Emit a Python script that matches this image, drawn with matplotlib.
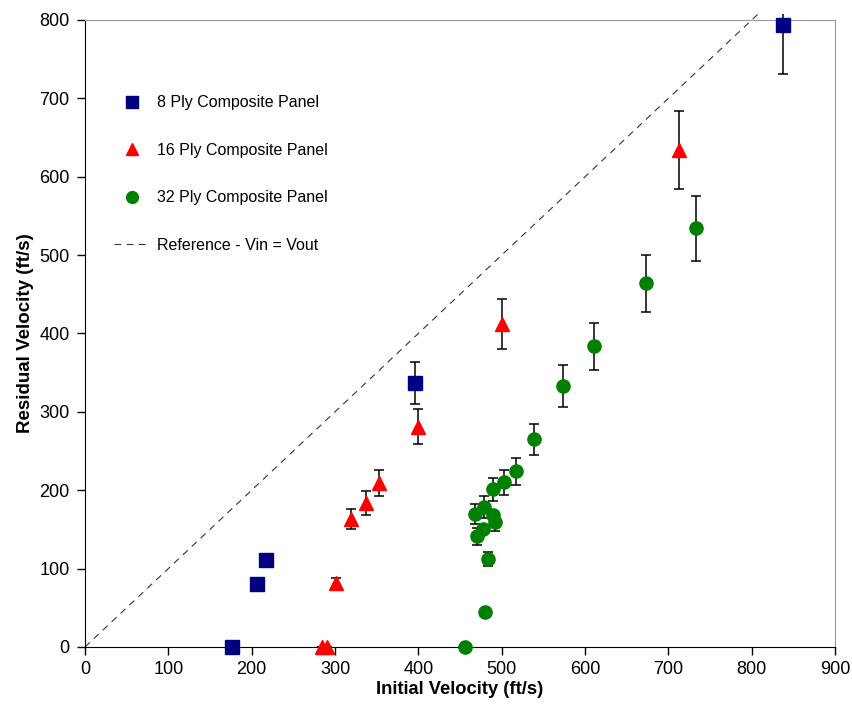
import matplotlib
matplotlib.use("Agg")
import matplotlib.pyplot as plt
from matplotlib.lines import Line2D

plt.rcParams['font.family'] = ['Liberation Sans', 'DejaVu Sans']

# 8 ply
v8_in = [177, 207, 217, 396, 837]
v8_out = [0, 80, 111, 337, 793]
e8_lo = [0, 0, 0, 27, 62]
e8_hi = [0, 0, 0, 27, 14]   # top bar of last point is cut by the plot area

# 16 ply
v16_in = [284, 290, 301, 319, 337, 353, 400, 500, 713]
v16_out = [0, 0, 81, 163, 184, 209, 281, 412, 634]
e16 = [0, 0, 7, 13, 15, 17, 22, 32, 50]

# 32 ply
v32_in = [456, 480, 483, 470, 478, 468, 479, 490, 492, 490, 503, 517, 539, 574, 611, 673, 733]
v32_out = [0, 44, 112, 141, 150, 170, 178, 168, 159, 201, 210, 224, 265, 333, 384, 464, 534]
e32 = [0, 0, 9, 11, 0, 13, 14, 0, 11, 15, 16, 17, 20, 27, 30, 36, 42]

ref_x = [0, 810]
ref_y = [0, 810]

xticks = list(range(0, 901, 100))
yticks = list(range(0, 801, 100))

labels = ['8 Ply Composite Panel', '16 Ply Composite Panel', '32 Ply Composite Panel',
          'Reference - Vin = Vout']

fig = plt.figure(figsize=(8.53, 7.24), dpi=100)
ax = fig.add_axes([0.0996, 0.1064, 0.8794, 0.866])

dash = (0, (6, 5))
ax.plot(ref_x, ref_y, ls=dash, color='#333333', lw=0.8, clip_on=False, zorder=1)

ekw = dict(ecolor='black', elinewidth=1.1, capsize=3.5, capthick=1.1, ls='none', clip_on=False)

# 8 ply: lower bars with caps, upper bars (cut ones without cap)
full = [i for i in range(len(v8_in)) if e8_hi[i] == e8_lo[i]]
cut = [i for i in range(len(v8_in)) if e8_hi[i] != e8_lo[i]]
ax.errorbar([v8_in[i] for i in full], [v8_out[i] for i in full],
            yerr=[e8_lo[i] for i in full], fmt='none', **ekw)
ax.errorbar([v8_in[i] for i in cut], [v8_out[i] for i in cut],
            yerr=[[e8_lo[i] for i in cut], [0 for i in cut]], fmt='none', **ekw)
ax.vlines([v8_in[i] for i in cut], [v8_out[i] for i in cut],
          [v8_out[i] + e8_hi[i] for i in cut], color='black', lw=1.1, clip_on=False)
ax.plot(v8_in, v8_out, 's', color='#000080', markersize=10, clip_on=False, zorder=3)

ax.errorbar(v16_in, v16_out, yerr=e16, fmt='none', **ekw)
ax.plot(v16_in, v16_out, '^', color='#ff0000', markersize=10, clip_on=False, zorder=3)

ax.errorbar(v32_in, v32_out, yerr=e32, fmt='none', **ekw)
ax.plot(v32_in, v32_out, 'o', color='#008000', markersize=9.5, clip_on=False, zorder=3)

ax.set_xlim(0, 900)
ax.set_ylim(0, 800)
ax.set_xticks(xticks)
ax.set_yticks(yticks)
ax.tick_params(direction='out', length=6, labelsize=13, width=1, pad=5)
ax.tick_params(axis='x', pad=4)
for s in ['top', 'right']:
    ax.spines[s].set_color('#999999')
for s in ['left', 'bottom']:
    ax.spines[s].set_color('black')

ax.set_xlabel('Initial Velocity (ft/s)', fontsize=13.2, fontweight='bold', labelpad=2)
ax.set_ylabel('Residual Velocity (ft/s)', fontsize=13.5, fontweight='bold', labelpad=4)

h = [Line2D([], [], marker='s', color='#000080', ls='none', markersize=8),
     Line2D([], [], marker='^', color='#ff0000', ls='none', markersize=9),
     Line2D([], [], marker='o', color='#008000', ls='none', markersize=8.5),
     Line2D([], [], color='#333333', ls=dash, lw=0.8)]
ax.legend(h, labels, loc='upper left', bbox_to_anchor=(0.02, 0.903), frameon=False,
          fontsize=11.5, labelspacing=2.04, handlelength=2.2, handletextpad=0.5)

fig.savefig('out.png', dpi=100)
